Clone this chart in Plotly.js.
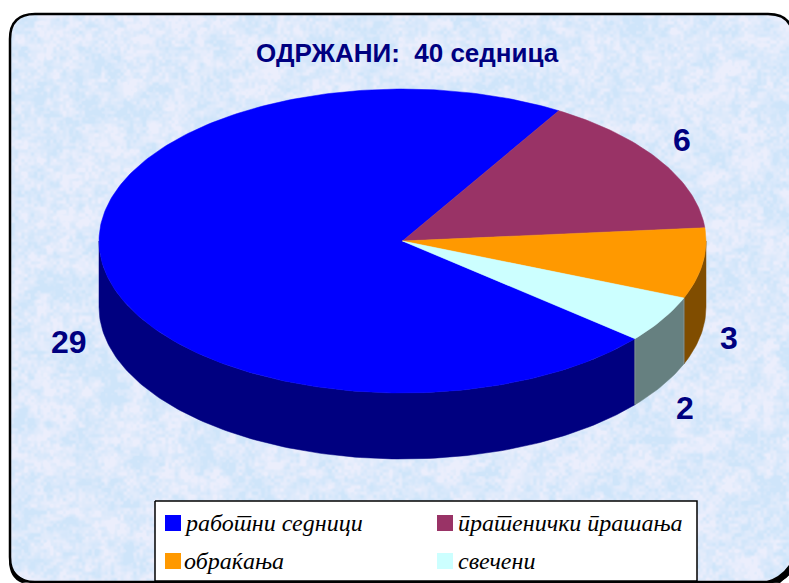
<!DOCTYPE html>
<html lang="mk">
<head>
<meta charset="utf-8">
<script src="https://cdn.plot.ly/plotly-3.0.1.min.js"></script>
<style>html,body{margin:0;padding:0;background:#fff;overflow:hidden}#chart{width:789px;height:583px}</style>
</head>
<body>
<div id="chart"></div>
<script>
// Data
const categories = ['работни седници', 'пратенички прашања', 'обраќања', 'свечени'];
const values = [29, 6, 3, 2];
const topColors = ['#0000ff', '#993366', '#ff9900', '#ccffff'];
const sideColors = ['#000080', '#4d1a33', '#804d00', '#668080'];
const titleText = 'ОДРЖАНИ:\u00a0\u00a040 седница';

// Pie geometry (axis units are pixels)
const cx = 402.5, cy = 241, rx = 303.5, ry = 152, depth = 66;
const startDeg = 31 - 261; // blue slice ends at 31 deg clockwise from top
const labelPos = [[69, 342], [682, 140], [729, 338], [685, 408]];

const total = values.reduce((a, b) => a + b, 0);
const rad = d => d * Math.PI / 180;
const px = d => cx + rx * Math.sin(rad(d));
const py = d => cy - ry * Math.cos(rad(d));

function arc(a, b) {
  const out = [];
  const n = Math.max(2, Math.ceil(Math.abs(b - a)));
  for (let i = 0; i <= n; i++) out.push(a + (b - a) * i / n);
  return out;
}

const traces = [];
let a = startDeg;
const spans = values.map(v => { const s = [a, a + v / total * 360]; a = s[1]; return s; });

// Side walls: only the front half of the rim (90..270 deg) is visible
spans.forEach((s, i) => {
  let lo = s[0], hi = s[1];
  while (hi < 90) { lo += 360; hi += 360; }
  const from = Math.max(lo, 90), to = Math.min(hi, 270);
  if (to <= from) return;
  const deg = arc(from, to);
  const xs = deg.map(px).concat(deg.slice().reverse().map(px));
  const ys = deg.map(d => py(d) + depth).concat(deg.slice().reverse().map(py));
  xs.push(xs[0]); ys.push(ys[0]);
  traces.push({x: xs, y: ys, mode: 'lines', fill: 'toself', fillcolor: sideColors[i],
    line: {color: sideColors[i], width: 0.5}, hoverinfo: 'skip', showlegend: false});
});
// Thin grey seams between side walls
spans.forEach(s => {
  const n = ((s[1] % 360) + 360) % 360;
  if (n > 90 && n < 270) {
    traces.push({x: [px(n), px(n)], y: [py(n), py(n) + depth], mode: 'lines',
      line: {color: '#7f8f8f', width: 1}, hoverinfo: 'skip', showlegend: false});
  }
});
// Top faces
spans.forEach((s, i) => {
  const deg = arc(s[0], s[1]);
  traces.push({x: [cx].concat(deg.map(px), [cx]), y: [cy].concat(deg.map(py), [cy]),
    mode: 'lines', fill: 'toself', fillcolor: topColors[i],
    line: {color: topColors[i], width: 0.5}, name: categories[i], hoverinfo: 'name', showlegend: false});
});

// Legend (box, swatches, labels)
const legendBoxX = [155, 697, 697, 155, 155];
const legendBoxY = [501, 501, 581, 581, 501];
const legendCols = [173, 445, 173, 445];
const legendRows = [523, 523, 561, 561];
const legendTextX = [182, 456, 182, 456];
traces.push({x: legendBoxX, y: legendBoxY, mode: 'lines', fill: 'toself', fillcolor: '#ffffff',
  line: {color: '#000000', width: 1.5}, hoverinfo: 'skip', showlegend: false});
traces.push({x: legendCols, y: legendRows, mode: 'markers', hoverinfo: 'skip', showlegend: false,
  marker: {symbol: 'square', size: 16, color: topColors, line: {width: 0}}});

const annotations = [{x: 407.5, y: 53, xref: 'x', yref: 'y', text: '<b>' + titleText + '</b>', showarrow: false,
  font: {family: '"Liberation Sans", Arial, sans-serif', size: 26, color: '#000080'}}];
values.forEach((v, i) => annotations.push({x: labelPos[i][0], y: labelPos[i][1], xref: 'x', yref: 'y',
  text: '<b>' + v + '</b>', showarrow: false,
  font: {family: '"Liberation Sans", Arial, sans-serif', size: 32, color: '#000080'}}));
categories.forEach((c, i) => annotations.push({x: legendTextX[i], y: legendRows[i], xref: 'x', yref: 'y',
  xanchor: 'left', text: '<i>' + c + '</i>', showarrow: false,
  font: {family: '"Liberation Serif", "Times New Roman", serif', size: 24, color: '#000000'}}));

// Panel outline path with rounded corners
const L = 10, T = 14, R = 793, B = 582, C = 25;
const panel = `M${L + C},${T} L${R - C},${T} Q${R},${T} ${R},${T + C} L${R},${B - C} Q${R},${B} ${R - C},${B} L${L + C},${B} Q${L},${B} ${L},${B - C} L${L},${T + C} Q${L},${T} ${L + C},${T} Z`;
// Heavier black at the two lower corners of the panel
const cornerRight = 'M764,582 Q780,578 789,565 L789,575 L780,583 Z';
const cornerLeft = 'M9,560 Q12,575 30,582 L22,583 Q9,578 9,560 Z';

// Mottled pale-blue paper texture (deterministic value noise)
function texture() {
  const W = 789, H = 583;
  const c = document.createElement('canvas'); c.width = W; c.height = H;
  const g = c.getContext('2d');
  const img = g.createImageData(W, H);
  const hash = (x, y) => { const s = Math.sin(x * 127.1 + y * 311.7) * 43758.5453; return s - Math.floor(s); };
  const smooth = t => t * t * (3 - 2 * t);
  const noise = (x, y) => {
    const xi = Math.floor(x), yi = Math.floor(y), u = smooth(x - xi), v = smooth(y - yi);
    const a = hash(xi, yi), b = hash(xi + 1, yi), c2 = hash(xi, yi + 1), d = hash(xi + 1, yi + 1);
    return a + (b - a) * u + (c2 - a) * v + (a - b - c2 + d) * u * v;
  };
  for (let y = 0; y < H; y++) for (let x = 0; x < W; x++) {
    const n = 0.3 * noise(x / 22, y / 22) + 0.35 * noise(x / 8, y / 8 + 50) + 0.35 * noise(x / 3.2 + 30, y / 3.2);
    const t = Math.min(1, Math.max(0, (n - 0.28) / 0.44));
    const i = (y * W + x) * 4;
    img.data[i] = 207 + t * 28;
    img.data[i + 1] = 229 + t * 9;
    img.data[i + 2] = 250 + t * 2;
    img.data[i + 3] = 255;
  }
  g.putImageData(img, 0, 0);
  const out = document.createElement('canvas'); out.width = W; out.height = H;
  const o = out.getContext('2d');
  o.fillStyle = '#fff'; o.fillRect(0, 0, W, H);
  const p = new Path2D(panel);
  o.save(); o.clip(p); o.drawImage(c, 0, 0); o.restore();
  return out.toDataURL('image/png');
}

const layout = {
  width: 789, height: 583,
  margin: {l: 0, r: 0, t: 0, b: 0},
  paper_bgcolor: '#ffffff', plot_bgcolor: 'rgba(0,0,0,0)',
  showlegend: false,
  xaxis: {range: [0, 789], visible: false, fixedrange: true},
  yaxis: {range: [583, 0], visible: false, fixedrange: true},
  images: [{source: texture(), xref: 'paper', yref: 'paper', x: 0, y: 1, sizex: 1, sizey: 1,
    xanchor: 'left', yanchor: 'top', sizing: 'stretch', layer: 'below'}],
  shapes: [
    {type: 'path', path: panel, line: {color: '#000000', width: 2.5}, fillcolor: 'rgba(0,0,0,0)', layer: 'below'},
    {type: 'path', path: cornerRight, line: {width: 0}, fillcolor: '#000000', layer: 'below'},
    {type: 'path', path: cornerLeft, line: {width: 0}, fillcolor: '#000000', layer: 'below'}
  ],
  annotations
};
Plotly.newPlot('chart', traces, layout, {displayModeBar: false, staticPlot: true});
</script>
</body>
</html>
